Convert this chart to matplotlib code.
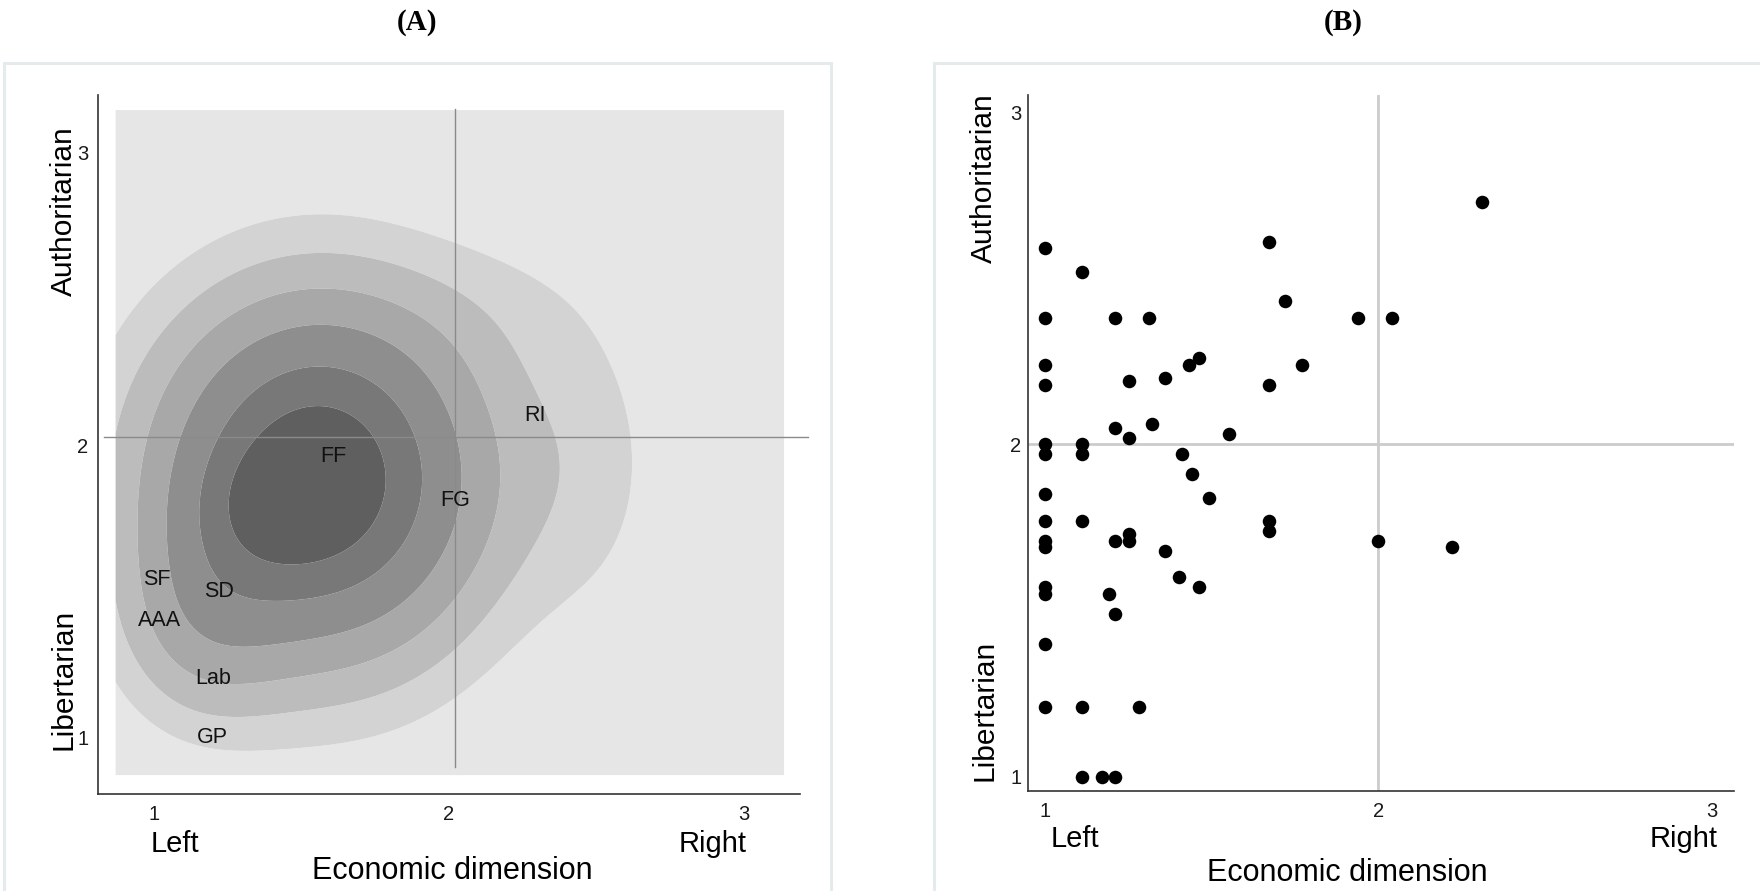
import numpy as np
import matplotlib
matplotlib.use("Agg")
import matplotlib.pyplot as plt
from matplotlib.transforms import blended_transform_factory
from matplotlib.patches import Rectangle

plt.rcParams['font.family'] = ['Liberation Sans', 'DejaVu Sans']

# ---- panel A: party positions ----
party_names = ['RI', 'FF', 'FG', 'SF', 'SD', 'AAA', 'Lab', 'GP']
party_econ = [2.29, 1.61, 2.02, 1.01, 1.22, 1.02, 1.20, 1.20]
party_auth = [2.10, 1.96, 1.81, 1.54, 1.50, 1.40, 1.20, 1.00]

bump_x = [1.56, 1.15, 2.50, 2.20, 1.36]
bump_y = [1.885, 1.38, 1.95, 2.50, 1.78]
bump_sx = [0.40, 0.20, 0.20, 0.25, 0.17]
bump_sy = [0.44, 0.25, 0.42, 0.20, 0.15]
bump_w = [1.00, 0.20, 0.11, 0.05, 0.10]
level_frac = [0.115, 0.204, 0.319, 0.464, 0.648, 0.81]
band_colors = ['#e6e6e6', '#d3d3d3', '#bcbcbc', '#a8a8a8',
               '#8e8e8e', '#787878', '#5f5f5f']
grid_lo, grid_hi = 0.871, 3.135
mean_econ, mean_auth = 2.022, 2.029

# ---- panel B: individual positions ----
econ_b = [2.31, 1.67, 1.00, 1.11, 1.72, 1.00, 1.21, 1.31, 1.94, 2.04,
          1.00, 1.43, 1.46, 1.77, 1.00, 1.25, 1.36, 1.67, 1.21, 1.25,
          1.32, 1.55, 1.00, 1.00, 1.11, 1.11, 1.41, 1.44, 1.00, 1.49,
          1.00, 1.11, 1.67, 1.67, 1.00, 1.00, 1.21, 1.25, 1.25, 2.00,
          2.22, 1.36, 1.40, 1.46, 1.00, 1.00, 1.19, 1.21, 1.00, 1.00,
          1.11, 1.28, 1.11, 1.17, 1.21]
auth_b = [2.73, 2.61, 2.59, 2.52, 2.43, 2.38, 2.38, 2.38, 2.38, 2.38,
          2.24, 2.24, 2.26, 2.24, 2.18, 2.19, 2.20, 2.18, 2.05, 2.02,
          2.06, 2.03, 2.00, 1.97, 2.00, 1.97, 1.97, 1.91, 1.85, 1.84,
          1.77, 1.77, 1.77, 1.74, 1.71, 1.69, 1.71, 1.73, 1.71, 1.71,
          1.69, 1.68, 1.60, 1.57, 1.57, 1.55, 1.55, 1.49, 1.40, 1.21,
          1.21, 1.21, 1.00, 1.00, 1.00]

ticks = [1, 2, 3]

fig = plt.figure(figsize=(17.6, 8.91), dpi=100)

# light panel frames
for x0, w in [(0.0022, 0.4698), (0.5307, 0.48)]:
    fig.patches.append(Rectangle((x0, -0.05), w, 0.979, transform=fig.transFigure,
                                 fill=False, ec='#e3ebed', lw=2.2))

fig.text(0.2372, 0.975, '(A)', ha='center', va='center', fontsize=21,
         fontweight='bold', family='Liberation Serif')
fig.text(0.7634, 0.975, '(B)', ha='center', va='center', fontsize=21,
         fontweight='bold', family='Liberation Serif')


def style_axis(ax, ylab_x, lr_y, title_y, lr_pos, title_x):
    for s in ['top', 'right']:
        ax.spines[s].set_visible(False)
    for s in ['left', 'bottom']:
        ax.spines[s].set_color('#333333')
        ax.spines[s].set_linewidth(1.2)
    ax.set_xticks(ticks)
    ax.set_yticks(ticks)
    ax.tick_params(length=0, labelsize=14.5, colors='#1a1a1a')
    ax.tick_params(axis='x', pad=8)
    ax.set_facecolor('white')
    tr = blended_transform_factory(ax.transAxes, ax.transData)
    ax.text(ylab_x, 2.8, 'Authoritarian', rotation=90, ha='center', va='center',
            fontsize=21.5, transform=tr)
    ax.text(ylab_x, 1.2, 'Libertarian', rotation=90, ha='center', va='center',
            fontsize=21.5, transform=tr)
    trx = blended_transform_factory(ax.transData, ax.transAxes)
    ax.text(lr_pos[0], lr_y, 'Left', ha='center', va='center', fontsize=21,
            transform=trx)
    ax.text(lr_pos[1], lr_y, 'Right', ha='center', va='center', fontsize=21,
            transform=trx)
    ax.text(title_x, title_y, 'Economic dimension', ha='center', va='center',
            fontsize=22, transform=trx)


# ---- panel A ----
axA = fig.add_axes([0.05545, 0.1094, 0.3991, 0.7835])
gx = np.linspace(grid_lo, grid_hi, 300)
gy = np.linspace(grid_lo, 3.146, 300)
X, Y = np.meshgrid(gx, gy)
Z = np.zeros_like(X)
for cx, cy, sx, sy, w in zip(bump_x, bump_y, bump_sx, bump_sy, bump_w):
    Z += w * np.exp(-0.5 * (((X - cx) / sx) ** 2 + ((Y - cy) / sy) ** 2))
zmax = Z.max()
levels = [0] + [f * zmax for f in level_frac] + [zmax * 1.01]
axA.contourf(X, Y, Z, levels=levels, colors=band_colors, antialiased=True)

axA.plot([mean_econ, mean_econ], [0.90, 3.15], color='#8a8a8a', lw=1.0)
axA.plot([0.832, 3.217], [mean_auth, mean_auth], color='#8a8a8a', lw=1.0,
         clip_on=False)
for name, x, y in zip(party_names, party_econ, party_auth):
    axA.text(x, y, name, ha='center', va='center', fontsize=15.5, color='#111111')

axA.set_xlim(0.810, 3.189)
axA.set_ylim(0.808, 3.196)
style_axis(axA, -0.048, -0.072, -0.111, (1.072, 2.893), 2.011)
axA.tick_params(axis='y', pad=6.5)

# ---- panel B ----
axB = fig.add_axes([0.5842, 0.1119, 0.4011, 0.781])
axB.plot([2, 2], [0.956, 3.05], color='#cccccc', lw=2, zorder=1)
axB.plot([0.949, 3.067], [2, 2], color='#cccccc', lw=2, zorder=1)
axB.scatter(econ_b, auth_b, s=95, color='black', zorder=3, lw=0)
axB.set_xlim(0.949, 3.067)
axB.set_ylim(0.956, 3.05)
style_axis(axB, -0.0625, -0.068, -0.117, (1.09, 2.916), 1.906)
axB.tick_params(axis='y', pad=5)

fig.savefig('out.png', dpi=100)
